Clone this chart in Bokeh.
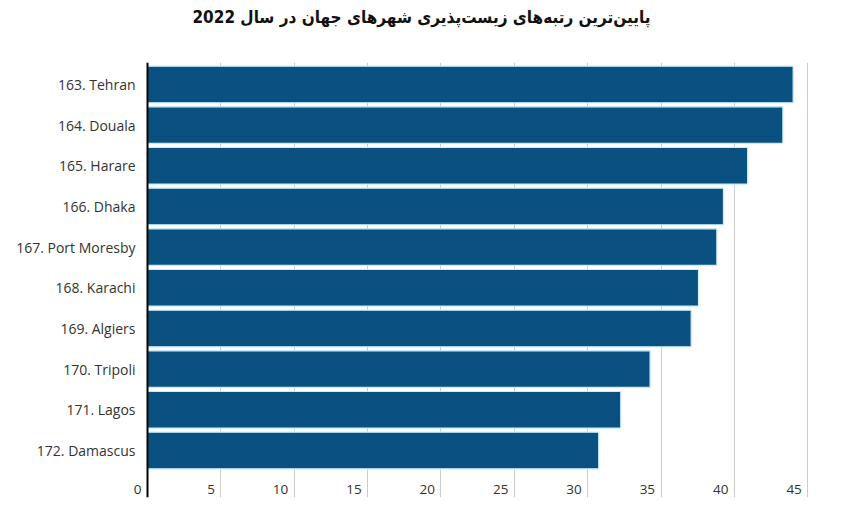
from bokeh.plotting import figure
from bokeh.models import Range1d, FixedTicker, ColumnDataSource, LabelSet, Span, Div
from bokeh.layouts import column
from bokeh.core.properties import value
from bokeh.embed import file_html
from bokeh.resources import INLINE

title_text = "پایین‌ترین رتبه‌های زیست‌پذیری شهرهای جهان در سال 2022"
cities = ["163. Tehran", "164. Douala", "165. Harare", "166. Dhaka", "167. Port Moresby",
          "168. Karachi", "169. Algiers", "170. Tripoli", "171. Lagos", "172. Damascus"]
scores = [44.0, 43.3, 40.9, 39.25, 38.8, 37.55, 37.05, 34.25, 32.25, 30.75]
x_ticks = [0, 5, 10, 15, 20, 25, 30, 35, 40, 45]
x_tick_labels = [str(t) for t in x_ticks]

pos = list(range(len(cities)))
label_row = len(cities) - 1 + 0.96

title = Div(text=title_text, width=843, height=40, margin=0,
            styles={"font-family": "'DejaVu Sans Condensed', 'DejaVu Sans', sans-serif",
                    "font-weight": "bold", "font-size": "17px", "color": "#111111",
                    "text-align": "center", "line-height": "34px", "direction": "rtl",
                    "width": "843px"})

p = figure(width=843, height=468, output_backend="svg", toolbar_location=None,
           x_range=Range1d(-1.5, 46), y_range=Range1d(len(cities) - 1 + 1.156, -0.54),
           min_border_left=125, min_border_right=21, min_border_top=22, min_border_bottom=11,
           margin=0)

src = ColumnDataSource(dict(y=pos, right=scores))
p.hbar(y="y", left=0, right="right", height=0.9, source=src,
       fill_color="#0a5080", line_color="#c6eefa", line_width=1.2)

p.add_layout(Span(location=0, dimension="height", line_color="#000000", line_width=2))

tsrc = ColumnDataSource(dict(x=x_ticks, y=[label_row] * len(x_ticks), t=x_tick_labels))
p.add_layout(LabelSet(x="x", y="y", text="t", source=tsrc, text_align="right",
                      text_baseline="middle", x_offset=-6, text_font=value("Open Sans"),
                      text_font_size=value("13.5px"), text_color="#333333"))

p.xaxis.visible = False
p.xgrid.ticker = FixedTicker(ticks=x_ticks[1:])
p.xgrid.grid_line_color = "#cccccc"
p.xgrid.grid_line_width = 1
p.ygrid.grid_line_color = None

ya = p.yaxis[0]
ya.ticker = FixedTicker(ticks=pos)
ya.major_label_overrides = {i: c for i, c in zip(pos, cities)}
ya.axis_line_color = None
ya.major_tick_line_color = None
ya.minor_tick_line_color = None
ya.major_label_text_font = "Open Sans"
ya.major_label_text_font_size = "14px"
ya.major_label_text_color = "#333333"
ya.major_label_standoff = -16

p.outline_line_color = None
p.background_fill_color = "white"

layout = column(title, p, spacing=0, margin=0)
open("out.html", "w").write(file_html(layout, INLINE))
